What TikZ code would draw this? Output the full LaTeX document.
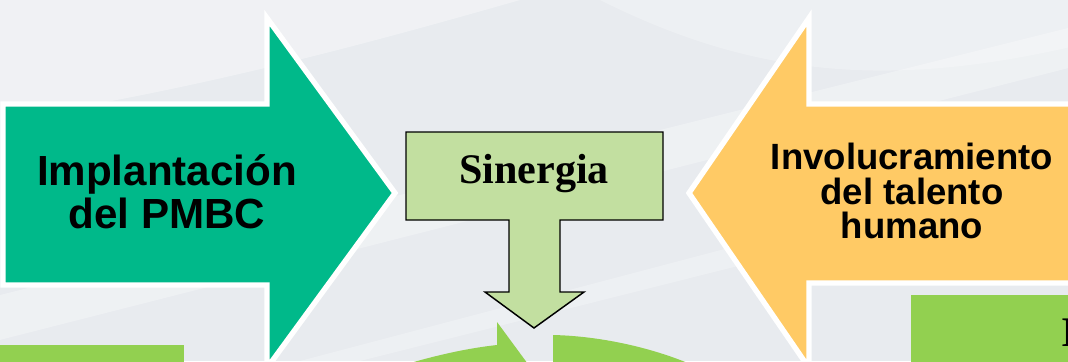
\documentclass[tikz,border=0pt]{standalone}
\usepackage{fontspec}
\setmainfont{Liberation Serif}
\setsansfont{Liberation Sans}
\definecolor{bgbase}{HTML}{E8EBEF}
\definecolor{teal}{HTML}{00B98A}
\definecolor{amber}{HTML}{FFCA65}
\definecolor{leaf}{HTML}{92D050}
\definecolor{pale}{HTML}{C2DFA0}
\begin{document}
\begin{tikzpicture}[x=0.75pt,y=-0.75pt,
  bigarrow/.style={draw=white, line width=4pt, line join=miter},
  callout/.style={draw=black, line width=1.1pt, fill=pale, line join=miter},
  sanslabel/.style={inner sep=0pt, align=center, font=\sffamily\bfseries},
  seriflabel/.style={inner sep=0pt, font=\rmfamily\bfseries\fontsize{31.6}{32}\selectfont}]
\useasboundingbox (0,0) rectangle (1068,361);
\clip (0,0) rectangle (1068,361);

% backdrop with soft diagonal streaks
\fill[bgbase] (0,0) rectangle (1068,361);
\fill[white, opacity=0.35] (0,0) -- (520,0) .. controls (380,40) and (200,90) .. (0,120) -- cycle;
\fill[white, opacity=0.30] (-20,300) -- (1100,20) -- (1100,60) -- (-20,345) -- cycle;
\fill[white, opacity=0.25] (300,361) -- (1100,150) -- (1100,175) -- (360,361) -- cycle;
\fill[white, opacity=0.25] (600,0) -- (1100,0) -- (1100,40) .. controls (900,90) and (760,80) .. (600,0) -- cycle;

% light green panels at the bottom
\fill[leaf] (0,345) rectangle (184,370);
\fill[leaf] (911,295) rectangle (1080,370);
\node[seriflabel, anchor=base west] (panelr) at (1061,346) {I};

% circular arrows of the cycle
\fill[leaf] (390,375) -- (400,366) .. controls (440,354) and (470,348) .. (497,345)
  -- (497,322) -- (536,375) -- cycle;
\fill[leaf] (553,375) -- (553,335) .. controls (600,336) and (660,348) .. (710,373) -- cycle;

% left arrow
\path[bigarrow, fill=teal] (3,104) -- (267,104) -- (267,18) -- (395,193)
  -- (267,368) -- (267,285) -- (3,285) -- cycle;
% right arrow
\path[bigarrow, fill=amber] (1080,104) -- (809,104) -- (809,18) -- (689,193)
  -- (809,368) -- (809,283) -- (1080,283) -- cycle;

% central callout pointing down
\path[callout] (406,132) -- (663,132) -- (663,220) -- (560,220) -- (560,292)
  -- (584,292) -- (534,328) -- (485,292) -- (509,292) -- (509,220)
  -- (406,220) -- cycle;

\node[sanslabel, font=\sffamily\bfseries\fontsize{31.6}{32.3}\selectfont] (impl) at (167,192) {Implantación\\del PMBC};
\node[sanslabel, font=\sffamily\bfseries\fontsize{27.4}{25.9}\selectfont] (invol) at (912,191) {Involucramiento\\del talento\\humano};
\node[seriflabel, anchor=base] (sin) at (534,183) {Sinergia};
\end{tikzpicture}
\end{document}
